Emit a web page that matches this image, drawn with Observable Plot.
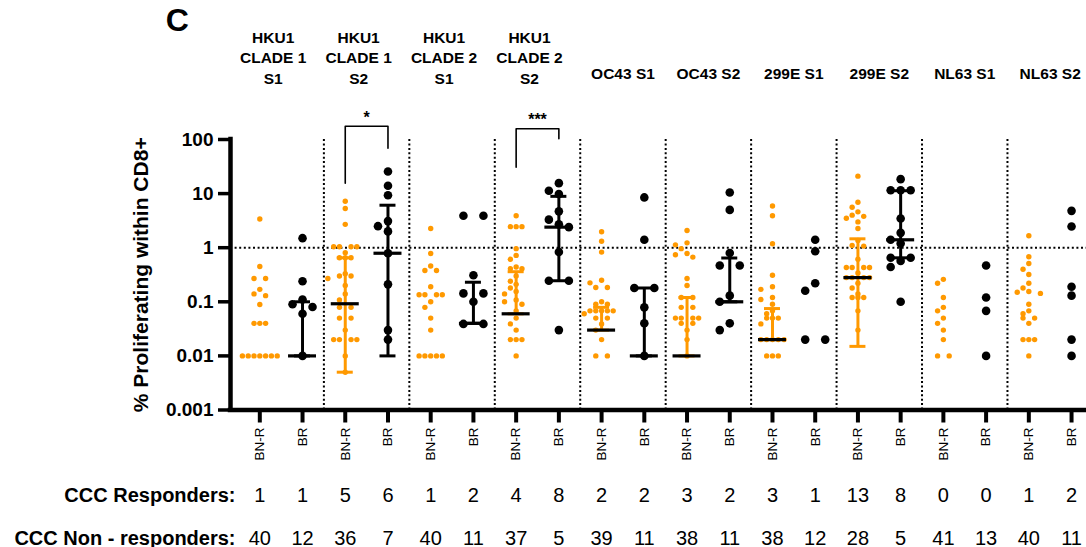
<!DOCTYPE html>
<html><head><meta charset="utf-8">
<script src="https://cdn.jsdelivr.net/npm/d3@7"></script>
<script src="https://cdn.jsdelivr.net/npm/@observablehq/plot@0.6"></script>
<style>html,body{margin:0;padding:0;background:#fff;overflow:hidden}</style>
</head><body><div id="chart"></div>
<script>
// ---------- data ----------
const panels = ["HKU1\nCLADE 1\nS1", "HKU1\nCLADE 1\nS2", "HKU1\nCLADE 2\nS1", "HKU1\nCLADE 2\nS2",
  "OC43 S1", "OC43 S2", "299E S1", "299E S2", "NL63 S1", "NL63 S2"];
const groups = ["BN-R", "BR"];
const responders    = [1, 1, 5, 6, 1, 2, 4, 8, 2, 2, 3, 2, 3, 1, 13, 8, 0, 0, 1, 2];
const nonResponders = [40, 12, 36, 7, 40, 11, 37, 5, 39, 11, 38, 11, 38, 12, 28, 5, 41, 13, 40, 11];
const yTicks = [0.001, 0.01, 0.1, 1, 10, 100];

const hku1C1S1_BNR = [3.4, 0.45, 0.27, 0.27, 0.17, 0.14, 0.13, 0.089, 0.04, 0.04, 0.04, 0.01, 0.01, 0.01, 0.01, 0.01, 0.01, 0.01];
const hku1C1S1_BR  = [1.5, 0.24, 0.11, 0.09, 0.08, 0.06, 0.01];
const hku1C1S2_BNR = [7.2, 5.3, 2.7, 1.04, 1.04, 1.04, 1.04, 0.81, 0.65, 0.65, 0.65, 0.33, 0.3, 0.3, 0.27, 0.2, 0.14, 0.108, 0.079, 0.079, 0.05, 0.05, 0.03, 0.02, 0.02, 0.02, 0.02, 0.01, 0.005];
const hku1C1S2_BR  = [25.6, 14, 9.3, 3.1, 2.5, 2.0, 0.79, 0.21, 0.03, 0.02];
const hku1C2S1_BNR = [2.27, 0.78, 0.46, 0.38, 0.38, 0.19, 0.135, 0.135, 0.135, 0.135, 0.1, 0.079, 0.05, 0.03, 0.01, 0.01, 0.01, 0.01, 0.01];
const hku1C2S1_BR  = [3.9, 3.9, 0.31, 0.143, 0.143, 0.1, 0.039, 0.039];
const hku1C2S2_BNR = [3.9, 2.45, 2.45, 2.45, 0.96, 0.72, 0.61, 0.44, 0.41, 0.41, 0.3, 0.24, 0.21, 0.18, 0.155, 0.14, 0.108, 0.1, 0.09, 0.068, 0.05, 0.039, 0.03, 0.02, 0.02, 0.02, 0.01];
const hku1C2S2_BR  = [15.6, 11.3, 9.8, 4.7, 3.3, 2.7, 2.4, 0.83, 0.245, 0.245, 0.03];
const oc43S1_BNR   = [1.97, 1.32, 0.83, 0.25, 0.224, 0.184, 0.184, 0.1, 0.09, 0.09, 0.068, 0.068, 0.068, 0.068, 0.068, 0.06, 0.05, 0.05, 0.039, 0.03, 0.02, 0.01, 0.01];
const oc43S1_BR    = [8.5, 1.4, 0.18, 0.18, 0.079, 0.04, 0.01];
const oc43S2_BNR   = [2.08, 1.23, 1.13, 0.96, 0.78, 0.74, 0.67, 0.27, 0.2, 0.12, 0.12, 0.079, 0.079, 0.05, 0.05, 0.05, 0.05, 0.04, 0.04, 0.03, 0.02, 0.01];
const oc43S2_BR    = [10.5, 5, 0.8, 0.47, 0.47, 0.13, 0.1, 0.04, 0.03];
const e299S1_BNR   = [5.9, 3.9, 1.18, 0.31, 0.19, 0.17, 0.12, 0.11, 0.09, 0.068, 0.06, 0.05, 0.05, 0.05, 0.039, 0.02, 0.02, 0.02, 0.02, 0.02, 0.01, 0.01, 0.01];
const e299S1_BR    = [1.4, 0.86, 0.22, 0.16, 0.02, 0.02];
const e299S2_BNR   = [21, 6.9, 5.6, 4.6, 4.0, 3.8, 3.5, 3.0, 2.27, 1.36, 1.1, 1.07, 0.61, 0.43, 0.43, 0.43, 0.43, 0.34, 0.28, 0.28, 0.28, 0.28, 0.22, 0.18, 0.14, 0.12, 0.12, 0.12, 0.068, 0.03];
const e299S2_BR    = [18.5, 11.5, 11.5, 11.5, 3.46, 1.88, 1.4, 1.2, 0.65, 0.65, 0.57, 0.44, 0.1];
const nl63S1_BNR   = [0.26, 0.22, 0.12, 0.079, 0.068, 0.05, 0.04, 0.03, 0.02, 0.01, 0.01];
const nl63S1_BR    = [0.47, 0.12, 0.068, 0.01];
const nl63S2_BNR   = [1.66, 0.68, 0.51, 0.4, 0.32, 0.22, 0.18, 0.155, 0.15, 0.143, 0.09, 0.068, 0.06, 0.05, 0.05, 0.04, 0.02, 0.02, 0.02, 0.01];
const nl63S2_BR    = [4.8, 2.46, 0.19, 0.13, 0.02, 0.01];

const categoryValues = [hku1C1S1_BNR, hku1C1S1_BR, hku1C1S2_BNR, hku1C1S2_BR, hku1C2S1_BNR, hku1C2S1_BR,
  hku1C2S2_BNR, hku1C2S2_BR, oc43S1_BNR, oc43S1_BR, oc43S2_BNR, oc43S2_BR, e299S1_BNR, e299S1_BR,
  e299S2_BNR, e299S2_BR, nl63S1_BNR, nl63S1_BR, nl63S2_BNR, nl63S2_BR];

// median with interquartile range (null = not drawn)
const medians = [null, 0.01, 0.092, 0.79, null, 0.04, 0.06, 2.4, 0.03, 0.01, 0.01, 0.1, 0.02, null, 0.28, 1.4, null, null, null, null];
const lowerQ  = [null, 0.01, 0.005, 0.01, null, 0.04, 0.06, 0.245, 0.03, 0.01, 0.01, 0.1, 0.02, null, 0.015, 0.65, null, null, null, null];
const upperQ  = [null, 0.1, 0.65, 6.1, null, 0.23, 0.36, 8.9, 0.079, 0.18, 0.12, 0.645, 0.075, null, 1.46, 11.3, null, null, null, null];

const bracketPanels = [1, 3];
const bracketLeft   = [15.5, 30.8];
const bracketTop    = [176, 158];
const bracketRight  = [69, 103];
const bracketLabels = ["*", "***"];

// ---------- layout ----------
const W = 1086, H = 547, mL = 230, mR = 0, mT = 139, mB = 137.5;
const xDomain = [-0.686, 19.35];
const yDomain = [0.001, 100];
const pxPerUnit = (W - mL - mR) / (xDomain[1] - xDomain[0]);
const pxPerDecade = (H - mT - mB) / (Math.log10(yDomain[1]) - Math.log10(yDomain[0]));
const ORANGE = "#FF9900", BLACK = "#000000";
const colors = [ORANGE, BLACK];

function swarmOffsets(vals, slotPx, minDist) {
  const order = d3.range(vals.length).sort((a, b) => vals[b] - vals[a]);
  const ypx = vals.map(v => -Math.log10(v) * pxPerDecade);
  const off = new Array(vals.length).fill(0);
  const placed = [];
  const slotSeq = k => k === 0 ? 0 : (k % 2 ? -Math.ceil(k / 2) : k / 2);
  let idx = 0;
  while (idx < order.length) {
    const v = vals[order[idx]];
    let j = idx; while (j < order.length && vals[order[j]] === v) j++;
    const members = order.slice(idx, j), n = members.length;
    if (n > 1) {
      const slots = n % 2 ? d3.range(n).map(k => k - (n - 1) / 2)
                          : d3.range(n).map(k => { const h = k - n / 2; return h < 0 ? h : h + 1; });
      members.forEach((m, k) => { off[m] = slots[k] * slotPx; placed.push({x: off[m], y: ypx[m]}); });
    } else {
      const m = members[0];
      for (let k = 0; k < 40; k++) {
        const x = slotSeq(k) * slotPx;
        if (placed.every(p => Math.hypot(p.x - x, p.y - ypx[m]) >= minDist)) { off[m] = x; break; }
      }
      placed.push({x: off[m], y: ypx[m]});
    }
    idx = j;
  }
  return off;
}

const points = [];
categoryValues.forEach((vals, c) => {
  const g = c % 2;
  const off = swarmOffsets(vals, g ? 10 : 5.8, g ? 8.5 : 6.5);
  vals.forEach((v, k) => points.push({x: c + off[k] / pxPerUnit, v, g}));
});

const summary = [];
medians.forEach((m, c) => { if (m != null) summary.push({i: c, med: m, lo: lowerQ[c], hi: upperQ[c], g: c % 2}); });
const caps = summary.flatMap(d => [{i: d.i, y: d.lo, g: d.g}, {i: d.i, y: d.hi, g: d.g}]);
const capHalf = 8 / pxPerUnit, medHalf = 14 / pxPerUnit;

const bracketPts = bracketPanels.flatMap((p, k) => [
  {id: k, x: 2 * p, y: bracketLeft[k]}, {id: k, x: 2 * p, y: bracketTop[k]},
  {id: k, x: 2 * p + 1, y: bracketTop[k]}, {id: k, x: 2 * p + 1, y: bracketRight[k]}]);

const dividers = d3.range(1, panels.length).map(p => 2 * p - 0.5);
const cats = d3.range(panels.length * 2);
const font = "'Liberation Sans', Arial, Helvetica, sans-serif";

const chart = Plot.plot({
  width: W, height: H,
  marginLeft: mL, marginRight: mR, marginTop: mT, marginBottom: mB,
  style: {fontFamily: font, background: "#fff", color: "#000", overflow: "visible"},
  x: {domain: xDomain, axis: null},
  y: {type: "log", domain: yDomain, axis: null},
  marks: [
    Plot.ruleY([1], {stroke: BLACK, strokeWidth: 2, strokeDasharray: "2,2.6"}),
    Plot.ruleX(dividers, {x: d => d, y1: yDomain[0], y2: yDomain[1], stroke: BLACK, strokeWidth: 2, strokeDasharray: "2,2.4"}),
    Plot.dot(points.filter(d => d.g === 0), {x: "x", y: "v", r: 2.7, fill: ORANGE}),
    Plot.dot(points.filter(d => d.g === 1), {x: "x", y: "v", r: 4.3, fill: BLACK}),
    Plot.ruleX(summary, {x: "i", y1: "lo", y2: "hi", stroke: d => colors[d.g], strokeWidth: 3}),
    Plot.ruleY(caps, {y: "y", x1: d => d.i - capHalf, x2: d => d.i + capHalf, stroke: d => colors[d.g], strokeWidth: 3}),
    Plot.ruleY(summary, {y: "med", x1: d => d.i - medHalf, x2: d => d.i + medHalf, stroke: BLACK, strokeWidth: 3.2}),
    Plot.line(bracketPts, {x: "x", y: "y", z: "id", stroke: BLACK, strokeWidth: 1.6}),
    Plot.text(bracketPanels, {x: p => 2 * p + 0.5, y: (p, k) => bracketTop[k], text: (p, k) => bracketLabels[k], dy: -8.5, fontSize: 16, fontWeight: "bold", lineAnchor: "middle"}),
    // axes
    Plot.ruleX([xDomain[0]], {y1: yDomain[0], y2: yDomain[1], stroke: BLACK, strokeWidth: 4.5, strokeLinecap: "square"}),
    Plot.ruleY([yDomain[0]], {x1: xDomain[0], x2: xDomain[1], stroke: BLACK, strokeWidth: 4.5, strokeLinecap: "square"}),
    Plot.axisY(yTicks, {tickFormat: d => `${d}`, tickSize: 12, tickPadding: 5, strokeWidth: 3.5, fontSize: 19, fontWeight: "bold", label: null}),
    Plot.axisX(cats, {tickFormat: i => groups[i % 2], tickRotate: -90, tickSize: 13, tickPadding: 4.5, strokeWidth: 4, fontSize: 13.5, textAnchor: "end", lineAnchor: "middle", label: null}),
    // y label
    Plot.text(["% Proliferating within CD8+"], {frameAnchor: "left", dx: -89, rotate: -90, fontSize: 21, fontWeight: "bold", textAnchor: "middle", lineAnchor: "middle"}),
    // panel headings
    Plot.text(panels, {filter: d => d.includes("\n"), x: (d, i) => 2 * i + 0.5, frameAnchor: "top", dx: -8, dy: -55.7, lineAnchor: "bottom", lineHeight: 1.33, fontSize: 15.5, fontWeight: "bold"}),
    Plot.text(panels, {filter: d => !d.includes("\n"), x: (d, i) => 2 * i + 0.5, frameAnchor: "top", dy: -60.3, lineAnchor: "bottom", fontSize: 15.5, fontWeight: "bold"}),
    Plot.text(["C"], {frameAnchor: "top-left", dx: -64.7, dy: -109, fontSize: 32, fontWeight: "bold", textAnchor: "start", lineAnchor: "bottom"}),
    // counts
    Plot.text(["CCC Responders:"], {frameAnchor: "bottom-left", dx: 5, dy: 92.2, fontSize: 20, fontWeight: "bold", textAnchor: "end", lineAnchor: "bottom"}),
    Plot.text(["CCC Non - responders:"], {frameAnchor: "bottom-left", dx: 5, dy: 135, fontSize: 20, fontWeight: "bold", textAnchor: "end", lineAnchor: "bottom"}),
    Plot.text(responders, {x: (d, i) => i, text: d => `${d}`, frameAnchor: "bottom", dy: 92.2, fontSize: 20, lineAnchor: "bottom"}),
    Plot.text(nonResponders, {x: (d, i) => i, text: d => `${d}`, frameAnchor: "bottom", dy: 135, fontSize: 20, lineAnchor: "bottom"})
  ]
});
document.getElementById("chart").appendChild(chart);
</script>
</body></html>
